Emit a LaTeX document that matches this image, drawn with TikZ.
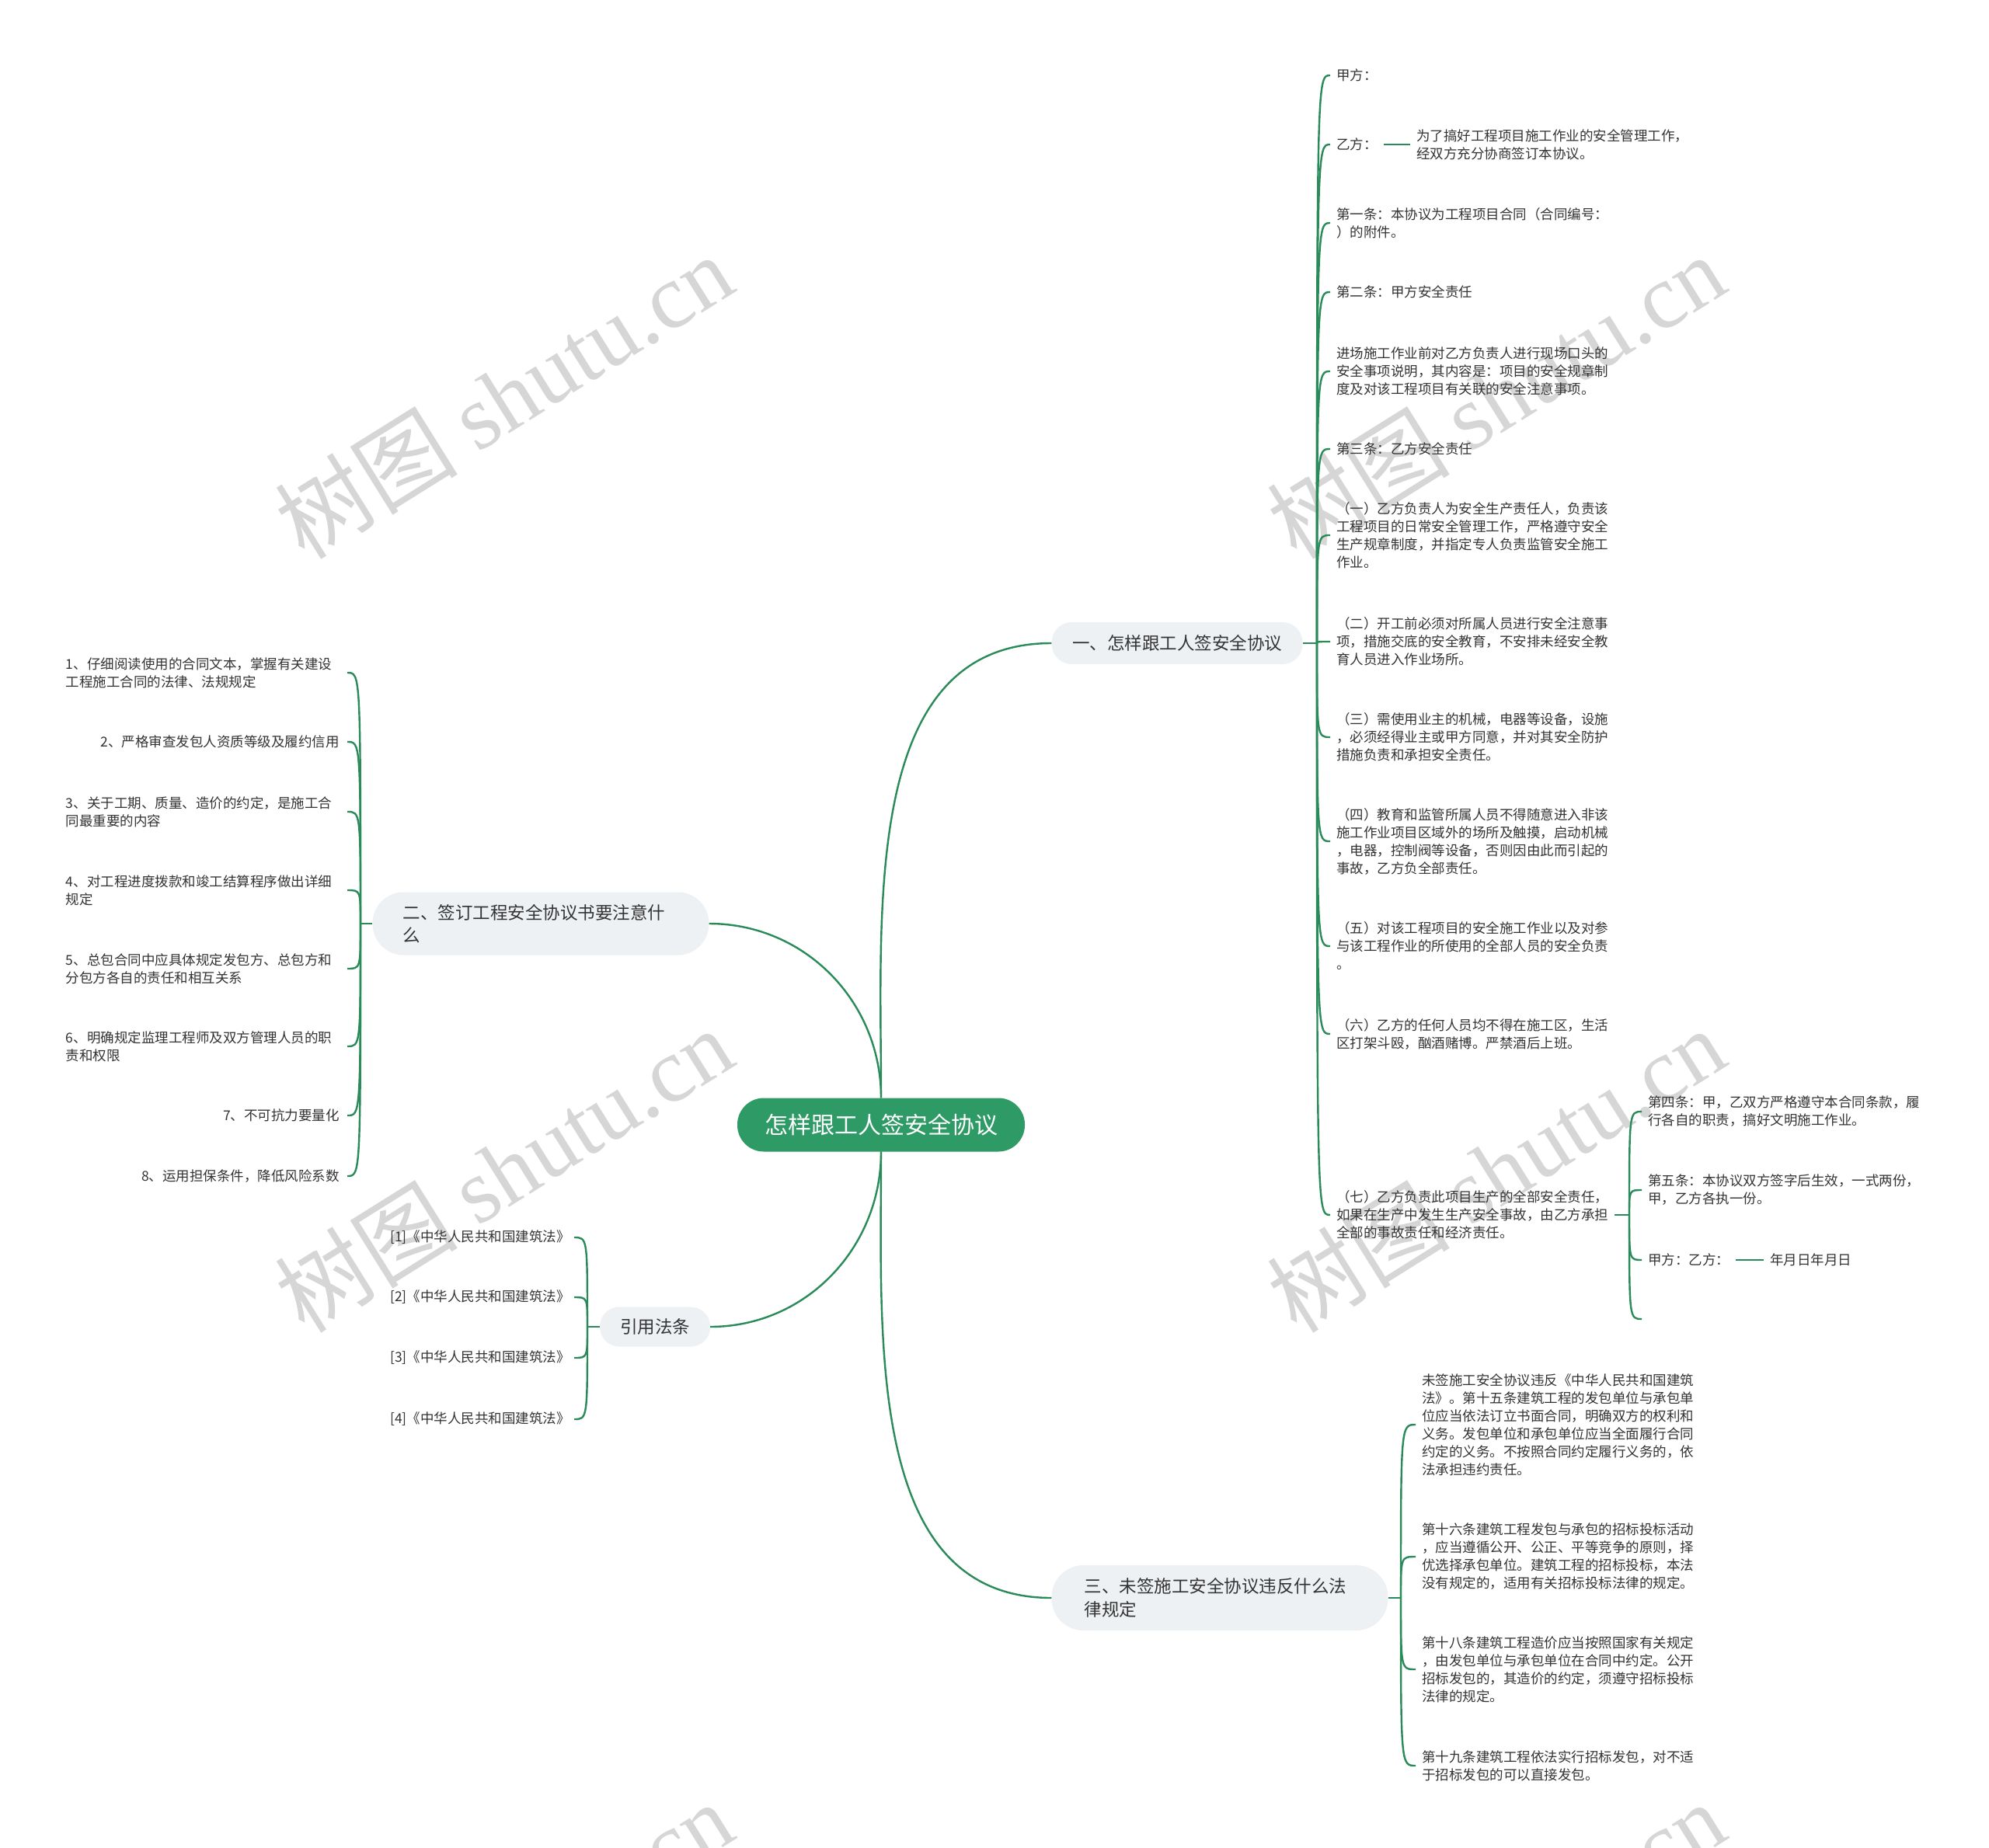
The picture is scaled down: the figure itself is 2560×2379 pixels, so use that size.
\documentclass[tikz,border=0pt]{standalone}
\usepackage{fontspec}
\setmainfont{Noto Sans CJK SC}
\newfontfamily\wmlatin{Liberation Serif}
\definecolor{lineg}{HTML}{2A8A5A}
\definecolor{rootg}{HTML}{2E9A66}
\definecolor{branchbg}{HTML}{EEF1F4}
\definecolor{txt}{HTML}{333333}
\definecolor{wmgray}{HTML}{D6D6D6}
\tikzset{
  conn/.style={draw=lineg, line width=2.4pt},
  rootnode/.style={fill=rootg, text=white, rounded corners=34pt, minimum width=370pt, minimum height=69pt, inner sep=0pt, font=\fontsize{30}{36}\selectfont},
  mainnode/.style={fill=branchbg, text=txt, font=\fontsize{22.5}{29.5}\selectfont, inner sep=0pt},
  rchild/.style={anchor=west, inner xsep=8pt, inner ysep=2pt, align=left, text=txt, font=\fontsize{17.5}{23}\selectfont},
  lchild/.style={anchor=east, inner xsep=10pt, inner ysep=2pt, align=left, text=txt, font=\fontsize{17.5}{23}\selectfont},
  lwide/.style={lchild, text width=352pt},
  wm/.style={text=wmgray, font=\fontsize{118}{118}\selectfont, inner sep=0pt, rotate=32}
}
\begin{document}
\begin{tikzpicture}[x=1pt, y=-1pt]
\useasboundingbox (0,0) rectangle (2560,2379);
\fill[white] (0,0) rectangle (2560,2379);
% watermarks
\begin{scope}
\clip (0,0) rectangle (2560,2379);
\node[wm] (wm1) at (648,510) {树图 {\wmlatin shutu.cn}};
\node[wm] (wm2) at (1925,510) {树图 {\wmlatin shutu.cn}};
\node[wm] (wm3) at (648,1506) {树图 {\wmlatin shutu.cn}};
\node[wm] (wm4) at (1925,1506) {树图 {\wmlatin shutu.cn}};
\node[wm] (wm5) at (648,2502) {树图 {\wmlatin shutu.cn}};
\node[wm] (wm6) at (1925,2502) {树图 {\wmlatin shutu.cn}};
\end{scope}

% main nodes
\node[rootnode] (root) at (1134,1448) {怎样跟工人签安全协议};
\node[mainnode, rounded corners=26pt, minimum width=323pt, minimum height=54pt] (b1) at (1515,828) {一、怎样跟工人签安全协议};
\node[mainnode, rounded corners=40pt, minimum height=81pt, text width=355pt, inner xsep=39pt, align=left] (b2) at (696,1189) {二、签订工程安全协议书要注意什\\么};
\node[mainnode, rounded corners=25pt, minimum width=142pt, minimum height=51pt] (b4) at (843,1708) {引用法条};
\node[mainnode, rounded corners=41pt, minimum height=84pt, text width=349pt, inner xsep=42pt, align=left] (b3) at (1570,2057) {三、未签施工安全协议违反什么法\\律规定};

\draw[conn] (root.north) to[out=90,in=180] (b1.west);
\draw[conn] (root.north) to[out=90,in=0] (b2.east);
\draw[conn] (root.south) to[out=-90,in=0] (b4.east);
\draw[conn] (root.south) to[out=-90,in=180] (b3.west);

% branch 1 children
\coordinate (s1) at (1695,828);
\draw[conn] (b1.east) -- (s1);
\node[rchild] (c1) at (1712,97) {甲方：};
\node[rchild] (c2) at (1712,186) {乙方：};
\node[rchild] (c2a) at (1815,186) {为了搞好工程项目施工作业的安全管理工作，\\经双方充分协商签订本协议。};
\node[rchild] (c3) at (1712,287) {第一条：本协议为工程项目合同（合同编号：\\）的附件。};
\node[rchild] (c4) at (1712,376) {第二条：甲方安全责任};
\node[rchild] (c5) at (1712,478) {进场施工作业前对乙方负责人进行现场口头的\\安全事项说明，其内容是：项目的安全规章制\\度及对该工程项目有关联的安全注意事项。};
\node[rchild] (c6) at (1712,578) {第三条：乙方安全责任};
\node[rchild] (c7) at (1712,689) {（一）乙方负责人为安全生产责任人，负责该\\工程项目的日常安全管理工作，严格遵守安全\\生产规章制度，并指定专人负责监管安全施工\\作业。};
\node[rchild] (c8) at (1712,826) {（二）开工前必须对所属人员进行安全注意事\\项，措施交底的安全教育，不安排未经安全教\\育人员进入作业场所。};
\node[rchild] (c9) at (1712,949) {（三）需使用业主的机械，电器等设备，设施\\，必须经得业主或甲方同意，并对其安全防护\\措施负责和承担安全责任。};
\node[rchild] (c10) at (1712,1083) {（四）教育和监管所属人员不得随意进入非该\\施工作业项目区域外的场所及触摸，启动机械\\，电器，控制阀等设备，否则因由此而引起的\\事故，乙方负全部责任。};
\node[rchild] (c11) at (1712,1218) {（五）对该工程项目的安全施工作业以及对参\\与该工程作业的所使用的全部人员的安全负责\\。};
\node[rchild] (c12) at (1712,1331) {（六）乙方的任何人员均不得在施工区，生活\\区打架斗殴，酗酒赌博。严禁酒后上班。};
\node[rchild] (c13) at (1712,1564) {（七）乙方负责此项目生产的全部安全责任，\\如果在生产中发生生产安全事故，由乙方承担\\全部的事故责任和经济责任。};
\foreach \c in {c1,c2,c3,c4,c5,c6,c7,c8,c9,c10,c11,c12,c13}{
  \draw[conn] (s1) .. controls (s1 |- \c.west) .. (\c.west);
}
\draw[conn] (c2.east) -- (c2a.west);

% children of (七)
\coordinate (s7) at (2097,1564);
\draw[conn] (c13.east) -- (s7);
\node[rchild] (d1) at (2113,1431) {第四条：甲，乙双方严格遵守本合同条款，履\\行各自的职责，搞好文明施工作业。};
\node[rchild] (d2) at (2113,1532) {第五条：本协议双方签字后生效，一式两份，\\甲，乙方各执一份。};
\node[rchild] (d3) at (2113,1622) {甲方：乙方：};
\node[rchild] (d3a) at (2270,1622) {年月日年月日};
\coordinate (d4) at (2113,1698);
\foreach \c in {d1,d2,d3}{
  \draw[conn] (s7) .. controls (s7 |- \c.west) .. (\c.west);
}
\draw[conn] (s7) .. controls (s7 |- d4) .. (d4);
\draw[conn] (d3.east) -- (d3a.west);

% branch 2 children
\coordinate (s2) at (464,1189);
\draw[conn] (b2.west) -- (s2);
\node[lwide] (e1) at (447,866) {1、仔细阅读使用的合同文本，掌握有关建设\\工程施工合同的法律、法规规定};
\node[lchild] (e2) at (447,955) {2、严格审查发包人资质等级及履约信用};
\node[lwide] (e3) at (447,1045) {3、关于工期、质量、造价的约定，是施工合\\同最重要的内容};
\node[lwide] (e4) at (447,1146) {4、对工程进度拨款和竣工结算程序做出详细\\规定};
\node[lwide] (e5) at (447,1247) {5、总包合同中应具体规定发包方、总包方和\\分包方各自的责任和相互关系};
\node[lwide] (e6) at (447,1347) {6、明确规定监理工程师及双方管理人员的职\\责和权限};
\node[lchild] (e7) at (447,1436) {7、不可抗力要量化};
\node[lchild] (e8) at (447,1514) {8、运用担保条件，降低风险系数};
\foreach \c in {e1,e2,e3,e4,e5,e6,e7,e8}{
  \draw[conn] (s2) .. controls (s2 |- \c.east) .. (\c.east);
}

% 引用法条 children
\coordinate (s4) at (756,1708);
\draw[conn] (b4.west) -- (s4);
\node[lchild, inner xsep=5pt] (f1) at (739,1593) {[1]《中华人民共和国建筑法》};
\node[lchild, inner xsep=5pt] (f2) at (739,1670) {[2]《中华人民共和国建筑法》};
\node[lchild, inner xsep=5pt] (f3) at (739,1748) {[3]《中华人民共和国建筑法》};
\node[lchild, inner xsep=5pt] (f4) at (739,1827) {[4]《中华人民共和国建筑法》};
\foreach \c in {f1,f2,f3,f4}{
  \draw[conn] (s4) .. controls (s4 |- \c.east) .. (\c.east);
}

% branch 3 children
\coordinate (s3) at (1803,2057);
\draw[conn] (b3.east) -- (s3);
\node[rchild] (g1) at (1822,1834) {未签施工安全协议违反《中华人民共和国建筑\\法》。第十五条建筑工程的发包单位与承包单\\位应当依法订立书面合同，明确双方的权利和\\义务。发包单位和承包单位应当全面履行合同\\约定的义务。不按照合同约定履行义务的，依\\法承担违约责任。};
\node[rchild] (g2) at (1822,2004) {第十六条建筑工程发包与承包的招标投标活动\\，应当遵循公开、公正、平等竞争的原则，择\\优选择承包单位。建筑工程的招标投标，本法\\没有规定的，适用有关招标投标法律的规定。};
\node[rchild] (g3) at (1822,2149) {第十八条建筑工程造价应当按照国家有关规定\\，由发包单位与承包单位在合同中约定。公开\\招标发包的，其造价的约定，须遵守招标投标\\法律的规定。};
\node[rchild] (g4) at (1822,2273) {第十九条建筑工程依法实行招标发包，对不适\\于招标发包的可以直接发包。};
\foreach \c in {g1,g2,g3,g4}{
  \draw[conn] (s3) .. controls (s3 |- \c.west) .. (\c.west);
}
\end{tikzpicture}
\end{document}
